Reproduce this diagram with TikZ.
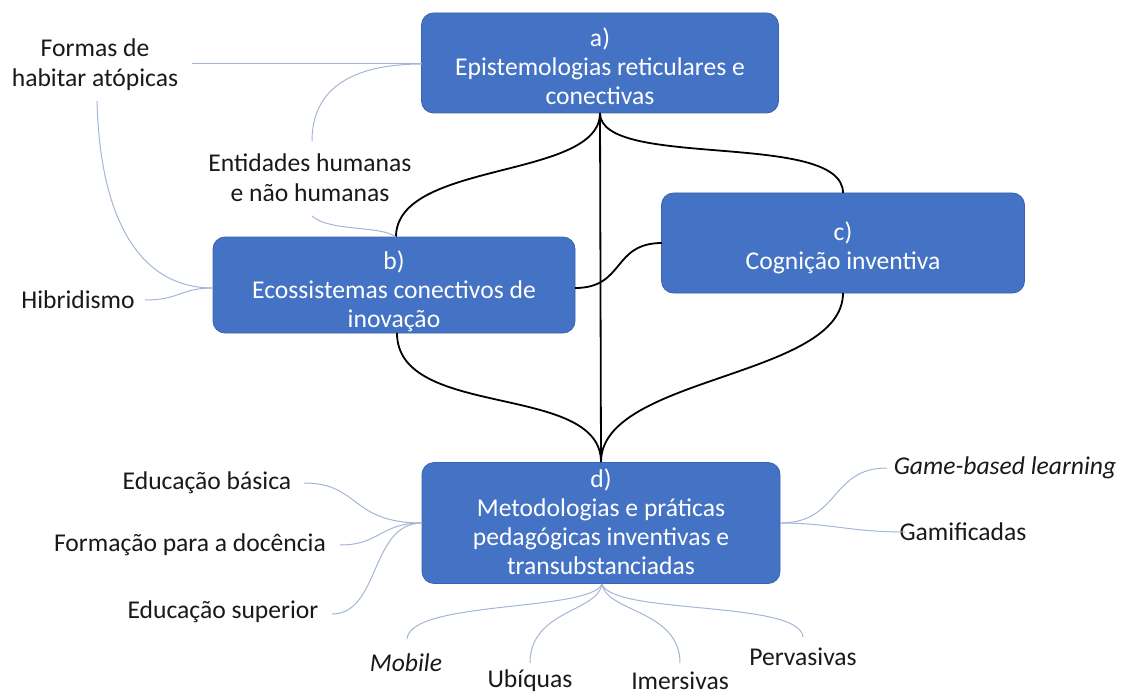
\documentclass[tikz,border=0pt]{standalone}
\usepackage{fontspec}
\setmainfont{Carlito}
\definecolor{boxblue}{HTML}{4472C4}
\definecolor{boxedge}{HTML}{3A64B0}
\definecolor{thinline}{HTML}{A3B6D6}
\begin{document}
\begin{tikzpicture}[x=1pt,y=-1pt,
  mainbox/.style={draw=boxedge,line width=0.8pt,fill=boxblue,rounded corners=12pt,inner sep=0pt},
  boxtext/.style={text=white,align=center,font=\fontsize{25.6}{29}\selectfont,inner sep=0pt},
  lbl/.style={text=black!90,align=center,font=\fontsize{25.6}{30}\selectfont,inner sep=0pt},
  bline/.style={black,line width=1.8pt},
  tline/.style={thinline,line width=1pt}]
\useasboundingbox (0,0) rectangle (1140,695);
% main boxes
\node[mainbox,minimum width=357pt,minimum height=100pt] (a) at (600,63) {};
\node[mainbox,minimum width=362pt,minimum height=96pt] (b) at (394,285) {};
\node[mainbox,minimum width=363pt,minimum height=100pt] (c) at (843,243) {};
\node[mainbox,minimum width=358pt,minimum height=121pt] (d) at (601,523) {};
\node[boxtext] (at) at (600,66) {a)\\Epistemologias reticulares e\\conectivas};
\node[boxtext] (bt) at (394,291) {b)\\Ecossistemas conectivos de\\inovação};
\node[boxtext] (ct) at (843,248) {c)\\Cognição inventiva};
\node[boxtext] (dt) at (601,522) {d)\\Metodologias e práticas\\pedagógicas inventivas e\\transubstanciadas};
% labels
\node[lbl] (formas) at (95,65) {Formas de\\habitar atópicas};
\node[lbl] (entid) at (310,178) {Entidades humanas\\e não humanas};
\node[lbl] (hibr) at (78,300) {Hibridismo};
\node[lbl] (ebas) at (207,483) {Educação básica};
\node[lbl] (form) at (190,545) {Formação para a docência};
\node[lbl] (esup) at (223,612) {Educação superior};
\node[lbl] (mob) at (406,663) {\itshape Mobile};
\node[lbl] (ubi) at (530,681) {Ubíquas};
\node[lbl] (imer) at (680,681) {Imersivas};
\node[lbl] (perv) at (803,657) {Pervasivas};
\node[lbl] (game) at (1005,468) {\itshape Game-based learning};
\node[lbl] (gami) at (963,532) {Gamificadas};
% anchor coordinates
\coordinate (aB) at (600,113);
\coordinate (aL) at (422,64);
\coordinate (bT) at (396,237);
\coordinate (bL) at (213,288);
\coordinate (bR) at (575,288);
\coordinate (bB) at (397,333);
\coordinate (cT) at (843,193);
\coordinate (cL) at (662,243);
\coordinate (cB) at (843,293);
\coordinate (dT) at (601,462);
\coordinate (dL) at (422,523);
\coordinate (dR) at (780,523);
\coordinate (dB) at (602,584);
\coordinate (formasR) at (192,64);
\coordinate (formasB) at (97,101);
\coordinate (entT) at (312,141);
\coordinate (entB) at (312,216);
\coordinate (hibR) at (145,300);
\coordinate (ebasR) at (304,483);
\coordinate (formR) at (340,545);
\coordinate (esupR) at (332,614);
\coordinate (mobT) at (407,639);
\coordinate (ubiT) at (530,663);
\coordinate (imerT) at (680,663);
\coordinate (pervT) at (803,637);
\coordinate (gameL) at (887,468);
\coordinate (gamiL) at (905,532);
% black connectors
\draw[bline] (aB) -- (dT);
\draw[bline] (aB) .. controls (600,180) and (396,160) .. (bT);
\draw[bline] (aB) .. controls (600,170) and (843,130) .. (cT);
\draw[bline] (bR) .. controls (625,288) and (612,243) .. (cL);
\draw[bline] (bB) .. controls (397,420) and (601,382) .. (dT);
\draw[bline] (cB) .. controls (843,378) and (601,376) .. (dT);
% thin connectors
\draw[tline] (formasR) -- (aL);
\draw[tline] (aL) .. controls (350,64) and (312,90) .. (entT);
\draw[tline] (formasB) .. controls (100,220) and (140,288) .. (bL);
\draw[tline] (hibR) .. controls (180,300) and (180,288) .. (bL);
\draw[tline] (entB) .. controls (330,232) and (380,225) .. (bT);
\draw[tline] (ebasR) .. controls (360,483) and (350,523) .. (dL);
\draw[tline] (formR) .. controls (380,545) and (380,523) .. (dL);
\draw[tline] (esupR) .. controls (380,614) and (370,523) .. (dL);
\draw[tline] (dB) .. controls (590,612) and (410,600) .. (mobT);
\draw[tline] (dB) .. controls (598,612) and (530,610) .. (ubiT);
\draw[tline] (dB) .. controls (606,612) and (680,610) .. (imerT);
\draw[tline] (dB) .. controls (612,615) and (800,600) .. (pervT);
\draw[tline] (dR) .. controls (840,523) and (830,468) .. (gameL);
\draw[tline] (dR) .. controls (830,523) and (850,532) .. (gamiL);
\end{tikzpicture}
\end{document}
